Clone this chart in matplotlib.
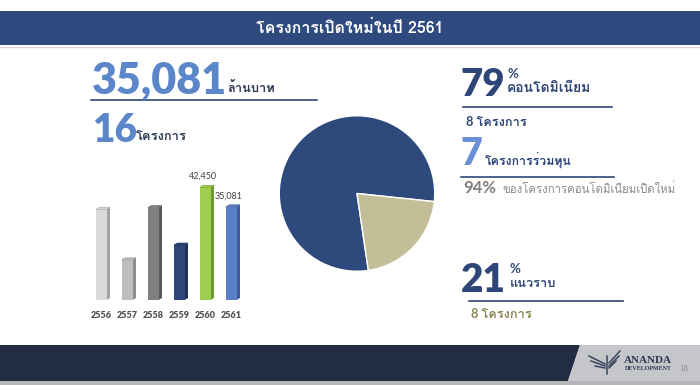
import matplotlib
matplotlib.use("Agg")
import matplotlib.pyplot as plt
from matplotlib import font_manager as fm
from matplotlib.ft2font import FT2Font
from matplotlib.patches import Polygon, Rectangle
from matplotlib.lines import Line2D

W, H = 700, 390

# bar chart: project value per year (million baht)
years = ["2556", "2557", "2558", "2559", "2560", "2561"]
values = [34150, 15100, 34800, 20700, 42450, 35081]
value_labels = {4: "42,450", 5: "35,081"}
front_colors = ["#d9d9d9", "#bfbfbf", "#7f7f7f", "#2e4677", "#9dce4f", "#5b80c6"]
side_colors = ["#a3a3a3", "#8e8e8e", "#595959", "#1e2f55", "#6e9a33", "#3c5a98"]

# pie: condo vs low-rise share of new projects
pie_shares = [79, 21]
pie_colors = ["#2e4a7d", "#c4be98"]

NAVY = "#2e4677"
BLUE = "#5b86c9"
DARK = "#2f3b55"


def find_thai_family():
    for f in fm.fontManager.ttflist:
        try:
            if 0x0E01 in FT2Font(f.fname).get_charmap():
                return f.name
        except Exception:
            continue
    return "DejaVu Sans"


THAI = find_thai_family()
MIXED = ["Lato", THAI, "DejaVu Sans"]
THAI_ONLY = [THAI, "DejaVu Sans"]

fig = plt.figure(figsize=(W / 100, H / 100), dpi=100)


def fx(x):
    return x / W


def fy(y):
    return 1 - y / H


def put(x, y, s, size, color, weight="bold", ha="left", va="baseline", family=MIXED):
    fig.text(fx(x), fy(y), s, fontsize=size, color=color, fontweight=weight,
             ha=ha, va=va, family=family)


def hline(x0, x1, y, color=NAVY, lw=1.2):
    fig.add_artist(Line2D([fx(x0), fx(x1)], [fy(y), fy(y)], color=color, lw=lw))


# header band
fig.patches.append(Rectangle((0, fy(45)), 1, (45 - 11) / H, transform=fig.transFigure,
                             facecolor="#2f4a7e", edgecolor="none"))
hline(0, W, 46.5, color="#d5d7dc", lw=1)
put(350, 28, "โครงการเปิดใหม่ในปี 2561", 11.5, "white", ha="center", va="center",
    family=[THAI, "DejaVu Sans"])

# footer band
fig.patches.append(Polygon([(0, fy(345)), (fx(580), fy(345)), (fx(568), fy(381)), (0, fy(381))],
                           closed=True, transform=fig.transFigure,
                           facecolor="#222c43", edgecolor="none"))
fig.patches.append(Polygon([(fx(580), fy(345)), (1, fy(345)), (1, fy(381)), (fx(568), fy(381))],
                           closed=True, transform=fig.transFigure,
                           facecolor="#c5c6ca", edgecolor="none"))
fig.patches.append(Rectangle((0, fy(385)), 1, 4 / H, transform=fig.transFigure,
                             facecolor="#b4b5b9", edgecolor="none"))
# logo
for (x0, y0, x1, y1) in [(589, 356, 605, 364), (591, 361, 605, 366), (595, 366, 605, 368),
                         (620, 351, 609, 363), (619, 356, 609, 366), (616, 361, 609, 368),
                         (607, 356, 607, 374)]:
    fig.add_artist(Line2D([fx(x0), fx(x1)], [fy(y0), fy(y1)], color="#3a4560", lw=1.1))
put(648, 363, "ANANDA", 8, "#2a3550", ha="center", family=["Liberation Serif"])
put(648, 370.5, "DEVELOPMENT", 4.3, "#2a3550", ha="center", family=["Liberation Serif"])
put(684, 371, "18", 6.5, "#8a8a8a", weight="normal", ha="center", family=["Liberation Serif"])

# left headline figures
put(92, 93, "35,081", 31, BLUE, weight="heavy")
put(227, 92.5, "ล้านบาท", 9.3, DARK, family=THAI_ONLY)
hline(91, 317, 100)
put(92, 141.5, "16", 28, BLUE, weight="heavy")
put(136, 140, "โครงการ", 9.3, DARK, family=THAI_ONLY)

# 3D-looking bars
ax = fig.add_axes([fx(85), fy(300), 165 / W, 140 / H])
ymax = 52700
x = list(range(len(years)))
bw = 0.41
dx = 0.13
dy = 2 * ymax / 140
ax.bar(x, values, width=bw, color=front_colors, zorder=3)
for i, v in enumerate(values):
    r = i + bw / 2
    ax.add_patch(Polygon([(r, 0), (r + dx, dy), (r + dx, v + dy), (r, v)],
                         closed=True, facecolor=side_colors[i], edgecolor="none", zorder=2))
    ax.add_patch(Polygon([(i - bw / 2, v), (i - bw / 2 + dx, v + dy), (r + dx, v + dy), (r, v)],
                         closed=True, facecolor=front_colors[i], edgecolor=side_colors[i],
                         lw=0.4, zorder=4))
    if i in value_labels:
        ax.annotate(value_labels[i], (i, v + dy), xytext=(-2, 3), textcoords="offset points",
                    ha="center", va="bottom", fontsize=6.5, color="#404040", family=MIXED)
ax.set_xlim(-0.627, 5.72)
ax.set_ylim(0, ymax)
ax.set_xticks(x, years, fontweight="heavy", family=MIXED, fontsize=6.5, color="#505050")
ax.tick_params(axis="x", length=0, pad=8)
ax.set_yticks([])
for s in ax.spines.values():
    s.set_visible(False)
ax.patch.set_alpha(0)

# pie
pax = fig.add_axes([fx(278.5), fy(272), 157 / W, 157 / H])
pax.pie(pie_shares, colors=pie_colors, startangle=-6, counterclock=True, radius=1,
        wedgeprops=dict(edgecolor="white", linewidth=1))
pax.set_xlim(-1.01, 1.01)
pax.set_ylim(-1.01, 1.01)

# right-hand stats
put(460, 96, f"{pie_shares[0]}", 27.5, NAVY, weight="heavy")
put(507, 78, "%", 9.5, NAVY)
put(507, 92, "คอนโดมิเนียม", 10, NAVY, family=THAI_ONLY)
hline(463, 612, 107.3)
put(466, 126, "8 โครงการ", 9.2, NAVY)
put(460, 165, "7", 27, "#6b8fd6", weight="heavy")
put(485, 165, "โครงการร่วมทุน", 8.9, NAVY, family=THAI_ONLY)
hline(461, 614, 176.7)
put(463, 193, "94%", 12, "#7f7f7f")
put(503, 193, "ของโครงการคอนโดมิเนียมเปิดใหม่", 8.2, "#8a8a8a", weight="normal", family=THAI_ONLY)
put(461, 291.5, f"{pie_shares[1]}", 28, NAVY, weight="heavy")
put(510, 273, "%", 9.5, NAVY)
put(510, 287, "แนวราบ", 9.2, NAVY, family=THAI_ONLY)
hline(469, 623, 300.7)
put(471, 317.5, "8 โครงการ", 9.2, "#8b8757")

fig.savefig("out.png", dpi=100)
